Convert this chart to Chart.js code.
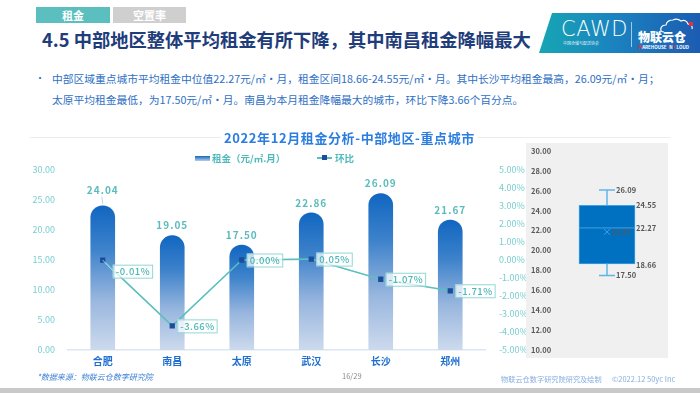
<!DOCTYPE html>
<html>
<head>
<meta charset="utf-8">
<script src="https://cdn.jsdelivr.net/npm/chart.js@4"></script>
<style>
  body { margin: 0; width: 700px; height: 393px; background: #fff; position: relative; overflow: hidden;
         font-family: "Noto Sans CJK SC", "Noto Sans", sans-serif; }
  .abs { position: absolute; white-space: nowrap; }
  .tab { position: absolute; top: 7px; height: 16px; line-height: 16px; color: #fff; font-size: 11px; font-weight: bold; text-align: center; }
  #banner { position: absolute; left: 539px; top: 13px; width: 161px; height: 40px;
            background: linear-gradient(90deg, #17a6b3 0%, #1a84c0 45%, #1c5cb2 100%);
            clip-path: polygon(13px 0, 161px 0, 161px 40px, 0 40px); }
  #mainChart { position: absolute; left: 0; top: 130px; }
  #boxPanel { position: absolute; left: 526px; top: 143px; width: 142px; height: 215px; background: #f0f0f0; }
</style>
</head>
<body>
<div class="tab" style="left:36px;width:74px;background:#5bbfc0;">租金</div>
<div class="tab" style="left:113px;width:73px;background:#cfcfcf;">空置率</div>
<div class="abs" style="left:42px;top:26px;font-size:18.3px;font-weight:bold;color:#1f3d7a;line-height:26px;">4.5 中部地区整体平均租金有所下降，其中南昌租金降幅最大</div>

<div id="banner"></div>
<div class="abs" style="left:561px;top:16px;font-family:'DejaVu Sans';font-weight:200;font-size:21px;color:#fff;line-height:26px;letter-spacing:0.5px;">CAWD</div>
<div class="abs" style="left:563px;top:41px;font-size:4px;color:#e6f2fa;line-height:5px;">中国仓储与配送协会</div>
<div class="abs" style="left:631px;top:22px;width:1px;height:25px;background:rgba(255,255,255,0.6);"></div>
<div class="abs" style="left:638px;top:30px;font-size:12px;font-weight:900;color:#fff;line-height:14px;">物联云仓</div>
<div class="abs" style="left:638px;top:44px;font-size:4.5px;font-weight:bold;color:#fff;line-height:6px;"><span style="color:#e8303a">W</span>AREHOUSE <span style="color:#e8303a">I</span>N <span style="color:#e8303a">C</span>LOUD</div>
<svg class="abs" style="left:660px;top:17px;" width="36" height="16" viewBox="0 0 36 16">
  <path d="M4 15 Q0 15 1 11 Q2 8 6 8 Q7 3 13 3 Q17 1 21 4 Q26 2 28 7 Q33 8 32 12" fill="none" stroke="#fff" stroke-width="1.2"/>
  <rect x="29" y="5" width="4" height="4" fill="#e8303a"/>
</svg>

<div class="abs" style="left:35px;top:69px;font-size:10px;color:#2e6fc4;line-height:18px;">•</div>
<div class="abs" style="left:52px;top:68px;font-size:10.75px;color:#2e6fc4;line-height:21px;">中部区域重点城市平均租金中位值22.27元/㎡·月，租金区间18.66-24.55元/㎡·月。其中长沙平均租金最高，26.09元/㎡·月；<br>太原平均租金最低，为17.50元/㎡·月。南昌为本月租金降幅最大的城市，环比下降3.66个百分点。</div>

<div class="abs" style="left:30px;top:137px;width:640px;height:1px;background:#ececec;"></div>
<canvas id="mainChart" width="530" height="245"></canvas>
<div class="abs" style="left:221px;top:129px;padding:0 3px;background:#fff;font-size:13px;font-weight:bold;color:#2b7de0;line-height:18px;letter-spacing:0.6px;">2022年12月租金分析-中部地区-重点城市</div>
<div class="abs" style="left:195px;top:156px;width:15px;height:5px;background:linear-gradient(180deg,#1467bf,#b8cce8);"></div>
<div class="abs" style="left:212px;top:151px;font-size:9.5px;font-weight:bold;color:#4fb9bb;line-height:14px;">租金（元/㎡.月）</div>
<div class="abs" style="left:317px;top:157px;width:15px;height:2px;background:#5bbfbe;"></div>
<div class="abs" style="left:322px;top:155px;width:5px;height:5px;background:#1a4e9a;"></div>
<div class="abs" style="left:335px;top:151px;font-size:9.5px;font-weight:bold;color:#4fb9bb;line-height:14px;">环比</div>

<div id="boxPanel"><canvas id="boxChart" width="142" height="215"></canvas></div>

<div class="abs" style="left:37px;top:371px;font-size:8px;font-style:italic;color:#3b7fd6;line-height:12px;">*数据来源：物联云仓数字研究院</div>
<div class="abs" style="left:342px;top:370px;font-size:7.5px;color:#8a8a8a;line-height:12px;">16/29</div>
<div class="abs" style="left:501px;top:373px;font-size:7.2px;color:#86aee0;line-height:12px;">物联云仓数字研究院研究及绘制</div>
<div class="abs" style="left:612px;top:373px;font-size:7.5px;color:#86aee0;line-height:12px;">©2022.12 50yc Inc</div>
<div class="abs" style="left:0;top:388px;width:700px;height:5px;background:#c9c9c9;"></div>

<script>
// city data, Dec 2022
const cities = ['合肥', '南昌', '太原', '武汉', '长沙', '郑州'];
const rent = [24.04, 19.05, 17.50, 22.86, 26.09, 21.67];
const momChange = [-0.01, -3.66, 0.00, 0.05, -1.07, -1.71];
const rentTicks = [0, 5, 10, 15, 20, 25, 30];
const momTicks = [-5, -4, -3, -2, -1, 0, 1, 2, 3, 4, 5];

// box plot: min, q1, median, q3, max and mean
const boxStats = [17.50, 18.66, 22.27, 24.55, 26.09];
const boxMean = 21.87;
const boxTicks = [10, 12, 14, 16, 18, 20, 22, 24, 26, 28, 30];

const teal = '#5bbfbe';

const barGradient = (c) => {
  const chart = c.chart;
  if (!chart.chartArea || c.type !== 'data') return '#1467bf';
  const y = chart.scales.y;
  const top = y.getPixelForValue(c.raw);
  const base = y.getPixelForValue(0);
  const g = chart.ctx.createLinearGradient(0, top, 0, base);
  g.addColorStop(0, '#1166c1');
  g.addColorStop(0.3, '#3d82cb');
  g.addColorStop(0.65, '#98b6de');
  g.addColorStop(1, '#cddaed');
  return g;
};

const labelPlugin = {
  id: 'labels',
  afterDatasetsDraw(chart) {
    const ctx = chart.ctx;
    ctx.save();
    ctx.letterSpacing = '1px';
    // bar values
    ctx.font = 'bold 10px "Noto Sans CJK SC"';
    ctx.fillStyle = '#5abcbc';
    ctx.textAlign = 'center';
    ctx.textBaseline = 'middle';
    chart.getDatasetMeta(0).data.forEach((bar, i) => {
      const lift = i === 0 ? 16 : 10;
      ctx.fillText(rent[i].toFixed(2), bar.x, bar.y - lift);
      if (i === 0) {
        ctx.strokeStyle = '#b8d4ec';
        ctx.lineWidth = 1;
        ctx.beginPath();
        ctx.moveTo(bar.x - 1, bar.y - 9);
        ctx.lineTo(bar.x, bar.y - 2);
        ctx.stroke();
      }
    });
    // month-on-month labels
    ctx.font = '500 9.5px "Noto Sans CJK SC"';
    ctx.letterSpacing = '0.5px';
    ctx.textAlign = 'left';
    chart.getDatasetMeta(1).data.forEach((pt, i) => {
      const txt = momChange[i].toFixed(2) + '%';
      const w = ctx.measureText(txt).width + 5;
      const dy = i === 0 ? 11 : 0;
      const bx = pt.x + 5 + (i === 0 ? 5 : 0);
      const by = pt.y + dy - 6.5;
      if (i === 0) {
        ctx.strokeStyle = '#b8d4ec';
        ctx.beginPath();
        ctx.moveTo(pt.x, pt.y);
        ctx.lineTo(bx, by + 6);
        ctx.stroke();
      }
      ctx.fillStyle = 'rgba(255,255,255,0.75)';
      ctx.fillRect(bx, by, w, 13);
      ctx.strokeStyle = '#93d6d5';
      ctx.lineWidth = 1;
      ctx.strokeRect(bx + 0.5, by + 0.5, w, 13);
      ctx.fillStyle = '#4db6b6';
      ctx.fillText(txt, bx + 3, by + 7);
    });
    ctx.restore();
  }
};

new Chart(document.getElementById('mainChart'), {
  data: {
    labels: cities,
    datasets: [
      {
        type: 'bar',
        label: '租金（元/㎡.月）',
        data: rent,
        yAxisID: 'y',
        order: 1,
        barThickness: 24,
        backgroundColor: barGradient,
        borderRadius: { topLeft: 12, topRight: 12 },
        borderSkipped: 'bottom'
      },
      {
        type: 'line',
        label: '环比',
        data: momChange,
        yAxisID: 'y1',
        order: 0,
        borderColor: teal,
        borderWidth: 1.6,
        pointStyle: 'rect',
        pointRadius: 2.6,
        pointBackgroundColor: '#1a4e9a',
        pointBorderColor: '#1a4e9a',
        tension: 0
      }
    ]
  },
  options: {
    responsive: false,
    animation: false,
    layout: { padding: { top: 40, left: 0, right: 0, bottom: 0 } },
    plugins: { legend: { display: false }, tooltip: { enabled: false } },
    scales: {
      x: {
        afterFit: s => { s.height = 25; },
        grid: { display: true, drawOnChartArea: false, drawTicks: false },
        border: { display: true, color: '#dbe6f4', width: 1.5 },
        ticks: { padding: 5, color: '#1f6fd1', font: { family: 'Noto Sans CJK SC', size: 10, weight: 'bold' } }
      },
      y: {
        position: 'left',
        min: 0, max: 30,
        afterFit: s => { s.width = 68; },
        afterBuildTicks: s => { s.ticks = rentTicks.map(v => ({ value: v })); },
        grid: { display: false },
        border: { display: false },
        ticks: { padding: 5, color: '#79cdd0', font: { family: 'Noto Sans CJK SC', size: 9 },
                 callback: v => Number(v).toFixed(2) }
      },
      y1: {
        position: 'right',
        min: -5, max: 5,
        afterFit: s => { s.width = 45; },
        afterBuildTicks: s => { s.ticks = momTicks.map(v => ({ value: v })); },
        grid: { display: false },
        border: { display: false },
        ticks: { padding: 6, color: '#79cdd0', font: { family: 'Noto Sans CJK SC', size: 9 },
                 callback: v => Number(v).toFixed(2) + '%' }
      }
    }
  },
  plugins: [labelPlugin]
});

const boxPlugin = {
  id: 'boxplot',
  afterDatasetsDraw(chart) {
    const ctx = chart.ctx;
    const y = chart.scales.y;
    const bar = chart.getDatasetMeta(0).data[0];
    const cx = bar.x, half = bar.width / 2;
    const [mn, q1, med, q3, mx] = boxStats.map(v => y.getPixelForValue(v));
    ctx.save();
    ctx.strokeStyle = '#62b4e8';
    ctx.lineWidth = 1.5;
    ctx.beginPath();
    ctx.moveTo(cx, q3); ctx.lineTo(cx, mx);
    ctx.moveTo(cx - 8, mx); ctx.lineTo(cx + 8, mx);
    ctx.moveTo(cx, q1); ctx.lineTo(cx, mn);
    ctx.moveTo(cx - 8, mn); ctx.lineTo(cx + 8, mn);
    ctx.stroke();
    ctx.strokeStyle = '#3ea2e6';
    ctx.lineWidth = 1;
    ctx.beginPath();
    ctx.moveTo(cx - half, med); ctx.lineTo(cx + half, med);
    ctx.stroke();
    // mean marker
    const my = y.getPixelForValue(boxMean);
    ctx.strokeStyle = '#3ea2e6';
    ctx.beginPath();
    ctx.moveTo(cx - 3, my - 3); ctx.lineTo(cx + 3, my + 3);
    ctx.moveTo(cx + 3, my - 3); ctx.lineTo(cx - 3, my + 3);
    ctx.stroke();
    ctx.font = 'bold 7.5px "Noto Sans CJK SC"';
    ctx.textBaseline = 'middle';
    ctx.textAlign = 'left';
    ctx.fillStyle = '#4c5a68';
    ctx.fillText(boxMean.toFixed(2), cx + 4, my);
    ctx.fillStyle = '#595959';
    ctx.fillText(boxStats[4].toFixed(2), cx + 9, mx);
    ctx.fillText(boxStats[0].toFixed(2), cx + 9, mn);
    ctx.fillText(boxStats[3].toFixed(2), cx + half + 1, q3);
    ctx.fillText(boxStats[2].toFixed(2), cx + half + 1, med);
    ctx.fillText(boxStats[1].toFixed(2), cx + half + 1, q1 + 1);
    ctx.restore();
  }
};

new Chart(document.getElementById('boxChart'), {
  type: 'bar',
  data: {
    labels: ['中部地区'],
    datasets: [{
      data: [[boxStats[1], boxStats[3]]],
      backgroundColor: '#0070c0',
      borderColor: '#3ea2e6',
      borderWidth: 1,
      borderSkipped: false,
      barThickness: 56
    }]
  },
  options: {
    responsive: false,
    animation: false,
    layout: { padding: { left: 5, right: 13, top: 8, bottom: 8 } },
    plugins: { legend: { display: false }, tooltip: { enabled: false } },
    scales: {
      x: { display: false },
      y: {
        min: 10, max: 30,
        afterFit: s => { s.width = 28; },
        afterBuildTicks: s => { s.ticks = boxTicks.map(v => ({ value: v })); },
        grid: { display: false },
        border: { display: false },
        ticks: { crossAlign: 'far', color: '#595959', font: { family: 'Noto Sans CJK SC', size: 7.5, weight: 'bold' },
                 callback: v => Number(v).toFixed(2) }
      }
    }
  },
  plugins: [boxPlugin]
});
</script>
</body>
</html>
